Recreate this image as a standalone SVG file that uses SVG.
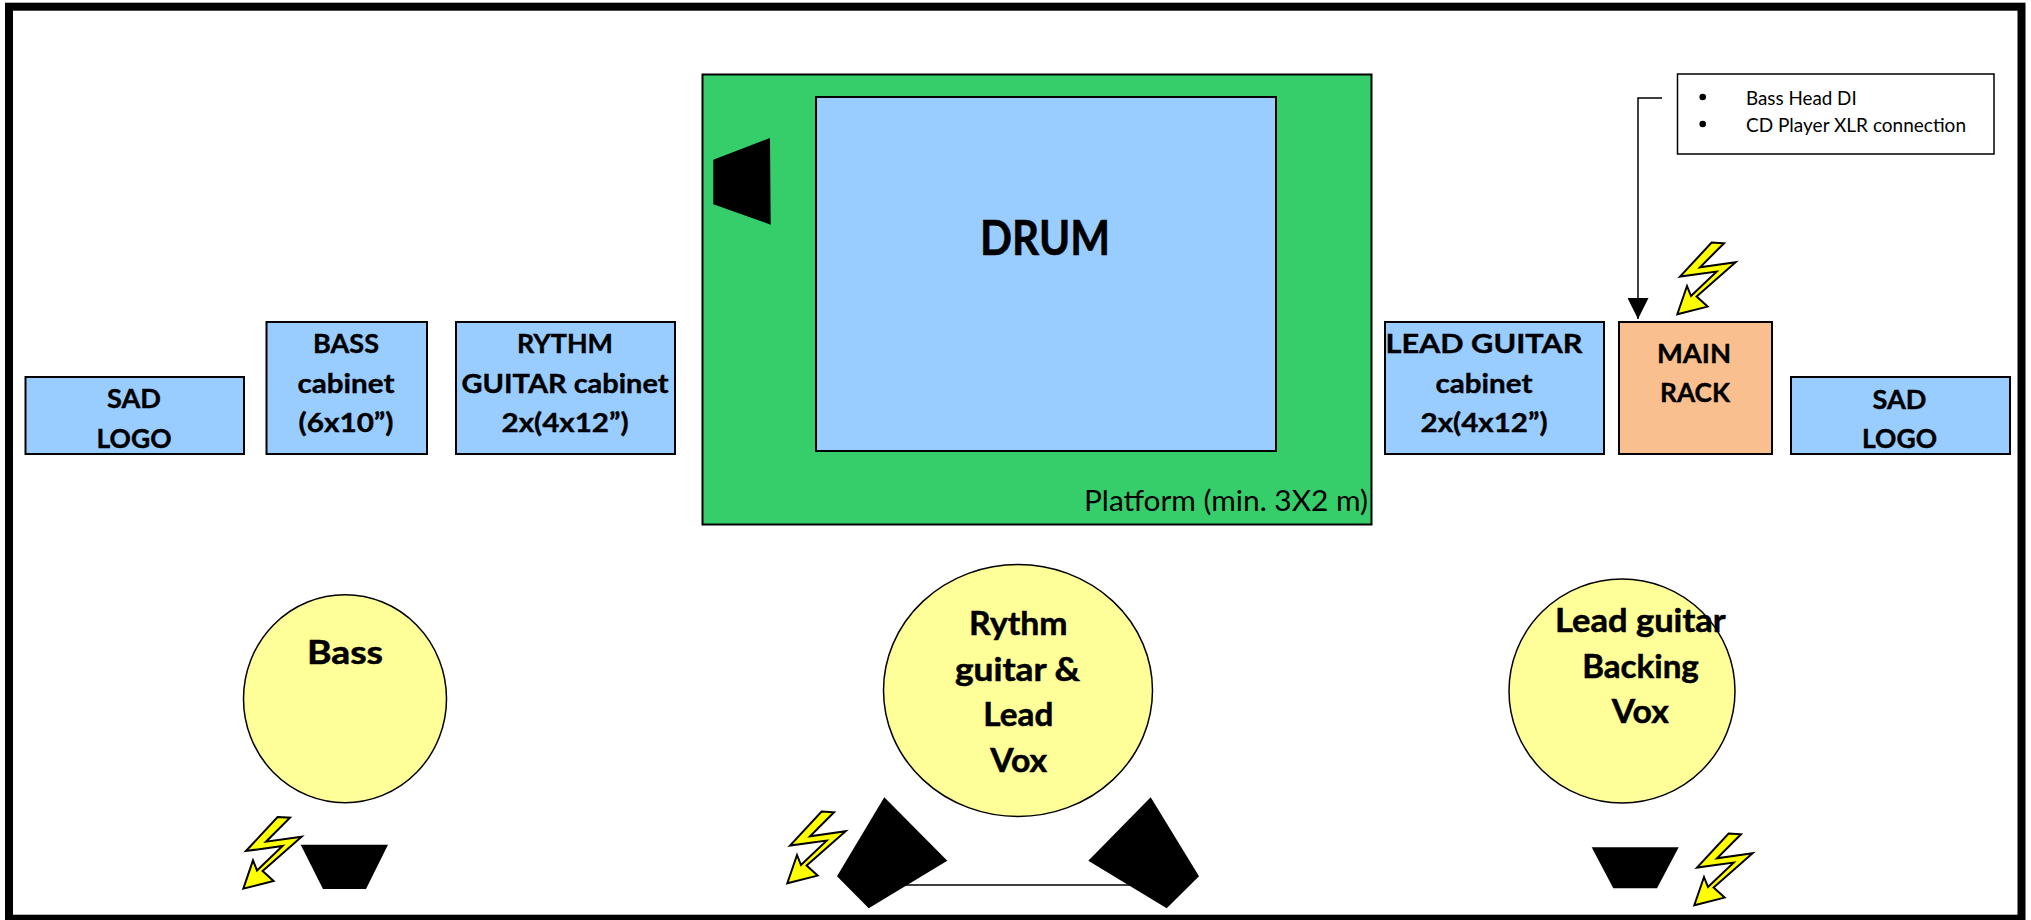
<svg xmlns="http://www.w3.org/2000/svg" width="2031" height="920" viewBox="0 0 2031 920">
<style>
text{font-family:Lato,"Liberation Sans",sans-serif;fill:#000;text-anchor:middle;lengthAdjust:spacingAndGlyphs}
.b{font-weight:700;font-size:27.500px;stroke:#000;stroke-width:.4}
.c{font-weight:700;font-size:31.500px;stroke:#000;stroke-width:.5}
.n{text-anchor:start;font-size:18.500px}
.box{fill:#99ccff;stroke:#000;stroke-width:2}
.yel{fill:#ffff99;stroke:#000;stroke-width:1.500}
.spk{fill:#000}
.bolt{fill:#ffff00;stroke:#000;stroke-width:2;stroke-linejoin:miter}
</style>
<defs>
<marker id="ah" markerUnits="userSpaceOnUse" markerWidth="22" markerHeight="21" refX="21" refY="10.500" orient="auto"><path d="M0 0L21 10.500L0 21z" fill="#000"/></marker>
<path id="bolt" d="M34.300-71.700L46.700-71L22.700-47L58.300-52L19.300-17.700L30.300-7.700L0 0L9.700-28.300L13.700-18.300L39.300-42.700L2.700-37.700z"/>
</defs>
<rect width="2031" height="920" fill="#fff"/>
<rect id="frame" x="9" y="6.700" width="2012.500" height="912" fill="none" stroke="#000" stroke-width="8"/>
<g id="connectors" fill="none" stroke="#000" stroke-width="1.500">
<path d="M1662 98H1638V319" marker-end="url(#ah)"/>
<path d="M900 885H1140"/>
</g>
<g id="platform"><rect x="702.500" y="74.500" width="669" height="450" fill="#36ce6b" stroke="#000" stroke-width="2"/><text x="1084" y="510.700" style="text-anchor:start;font-size:28px" textLength="284" lengthAdjust="spacingAndGlyphs">Platform (min. 3X2 m)</text></g>
<g id="drum"><rect class="box" x="816" y="97" width="460" height="354"/><text x="1045" y="255" style="font-weight:700;font-size:47px;stroke:#000;stroke-width:.6" textLength="130" lengthAdjust="spacingAndGlyphs">DRUM</text></g>
<path id="drum-speaker" class="spk" d="M713.300 159.700L770 138L770.700 224.700L713.300 204.300z"/>
<g id="sad-left"><rect class="box" x="25.500" y="377" width="218.500" height="77"/><text class="b" x="134" y="408" textLength="54" lengthAdjust="spacingAndGlyphs">SAD</text><text class="b" x="134" y="448" textLength="75" lengthAdjust="spacingAndGlyphs">LOGO</text></g>
<g id="bass-cab"><rect class="box" x="266.500" y="322" width="160.500" height="132"/><text class="b" x="346" y="353" textLength="66" lengthAdjust="spacingAndGlyphs">BASS</text><text class="b" x="346" y="393" textLength="97" lengthAdjust="spacingAndGlyphs">cabinet</text><text class="b" x="346" y="432" textLength="95" lengthAdjust="spacingAndGlyphs">(6x10”)</text></g>
<g id="rythm-cab"><rect class="box" x="456" y="322" width="219" height="132"/><text class="b" x="565" y="353" textLength="96" lengthAdjust="spacingAndGlyphs">RYTHM</text><text class="b" x="565" y="393" textLength="207" lengthAdjust="spacingAndGlyphs">GUITAR cabinet</text><text class="b" x="565" y="432" textLength="127" lengthAdjust="spacingAndGlyphs">2x(4x12”)</text></g>
<g id="lead-cab"><rect class="box" x="1385" y="322" width="219" height="132"/><text class="b" x="1484" y="353" textLength="197" lengthAdjust="spacingAndGlyphs">LEAD GUITAR</text><text class="b" x="1484" y="393" textLength="97" lengthAdjust="spacingAndGlyphs">cabinet</text><text class="b" x="1484" y="432" textLength="127" lengthAdjust="spacingAndGlyphs">2x(4x12”)</text></g>
<g id="rack"><rect x="1619" y="322" width="153" height="132" fill="#f9bf8f" stroke="#000" stroke-width="2"/><text class="b" x="1694" y="362.500" textLength="74" lengthAdjust="spacingAndGlyphs">MAIN</text><text class="b" x="1695" y="401.500" textLength="70" lengthAdjust="spacingAndGlyphs">RACK</text></g>
<g id="sad-right"><rect class="box" x="1791" y="377" width="219" height="77"/><text class="b" x="1899.500" y="408.500" textLength="54" lengthAdjust="spacingAndGlyphs">SAD</text><text class="b" x="1899.500" y="447.500" textLength="75" lengthAdjust="spacingAndGlyphs">LOGO</text></g>
<g id="note"><rect x="1677.500" y="74" width="316.500" height="80" fill="#fff" stroke="#000" stroke-width="1.500"/><circle cx="1702.700" cy="97" r="3.300" fill="#000"/><circle cx="1702.700" cy="124" r="3.300" fill="#000"/><text class="n" x="1746" y="105" textLength="110.700" lengthAdjust="spacingAndGlyphs">Bass Head DI</text><text class="n" x="1746" y="132" textLength="220" lengthAdjust="spacingAndGlyphs">CD Player XLR connection</text></g>
<use id="bolt-rack" class="bolt" href="#bolt" x="1677.300" y="314.300"/>
<g id="bass"><ellipse class="yel" cx="345" cy="698.700" rx="101.500" ry="104"/><text class="c" x="345" y="664" textLength="76" lengthAdjust="spacingAndGlyphs">Bass</text></g>
<g id="rythm"><ellipse class="yel" cx="1018" cy="690.500" rx="134.500" ry="126"/><text class="c" x="1018.300" y="635" textLength="98.700" lengthAdjust="spacingAndGlyphs">Rythm</text><text class="c" x="1017.500" y="680.700" textLength="125" lengthAdjust="spacingAndGlyphs">guitar &amp;</text><text class="c" x="1018.300" y="725.700" textLength="70" lengthAdjust="spacingAndGlyphs">Lead</text><text class="c" x="1018.700" y="771.700" textLength="57" lengthAdjust="spacingAndGlyphs">Vox</text></g>
<g id="lead"><ellipse class="yel" cx="1622" cy="691" rx="113" ry="112"/><text class="c" x="1640.300" y="632.300" textLength="170.700" lengthAdjust="spacingAndGlyphs">Lead guitar</text><text class="c" x="1640.500" y="678.300" textLength="116.700" lengthAdjust="spacingAndGlyphs">Backing</text><text class="c" x="1640.300" y="723" textLength="57" lengthAdjust="spacingAndGlyphs">Vox</text></g>
<g id="speakers">
<path class="spk" d="M300.700 844.700H388L366 889H323z"/>
<path class="spk" d="M1591.700 847.300H1678.700L1657 888.300H1613.300z"/>
<path class="spk" d="M884.300 797.300L947.300 860.700L868.700 908.300L837 876.300z"/>
<path class="spk" d="M1150.700 797.300L1088.300 860.700L1166.700 908.300L1199 876.300z"/>
</g>
<use id="bolt-bass" class="bolt" href="#bolt" x="243.300" y="888.700"/>
<use id="bolt-rythm" class="bolt" href="#bolt" x="787.300" y="883.300"/>
<use id="bolt-lead" class="bolt" href="#bolt" x="1694.300" y="905.300"/>
</svg>
